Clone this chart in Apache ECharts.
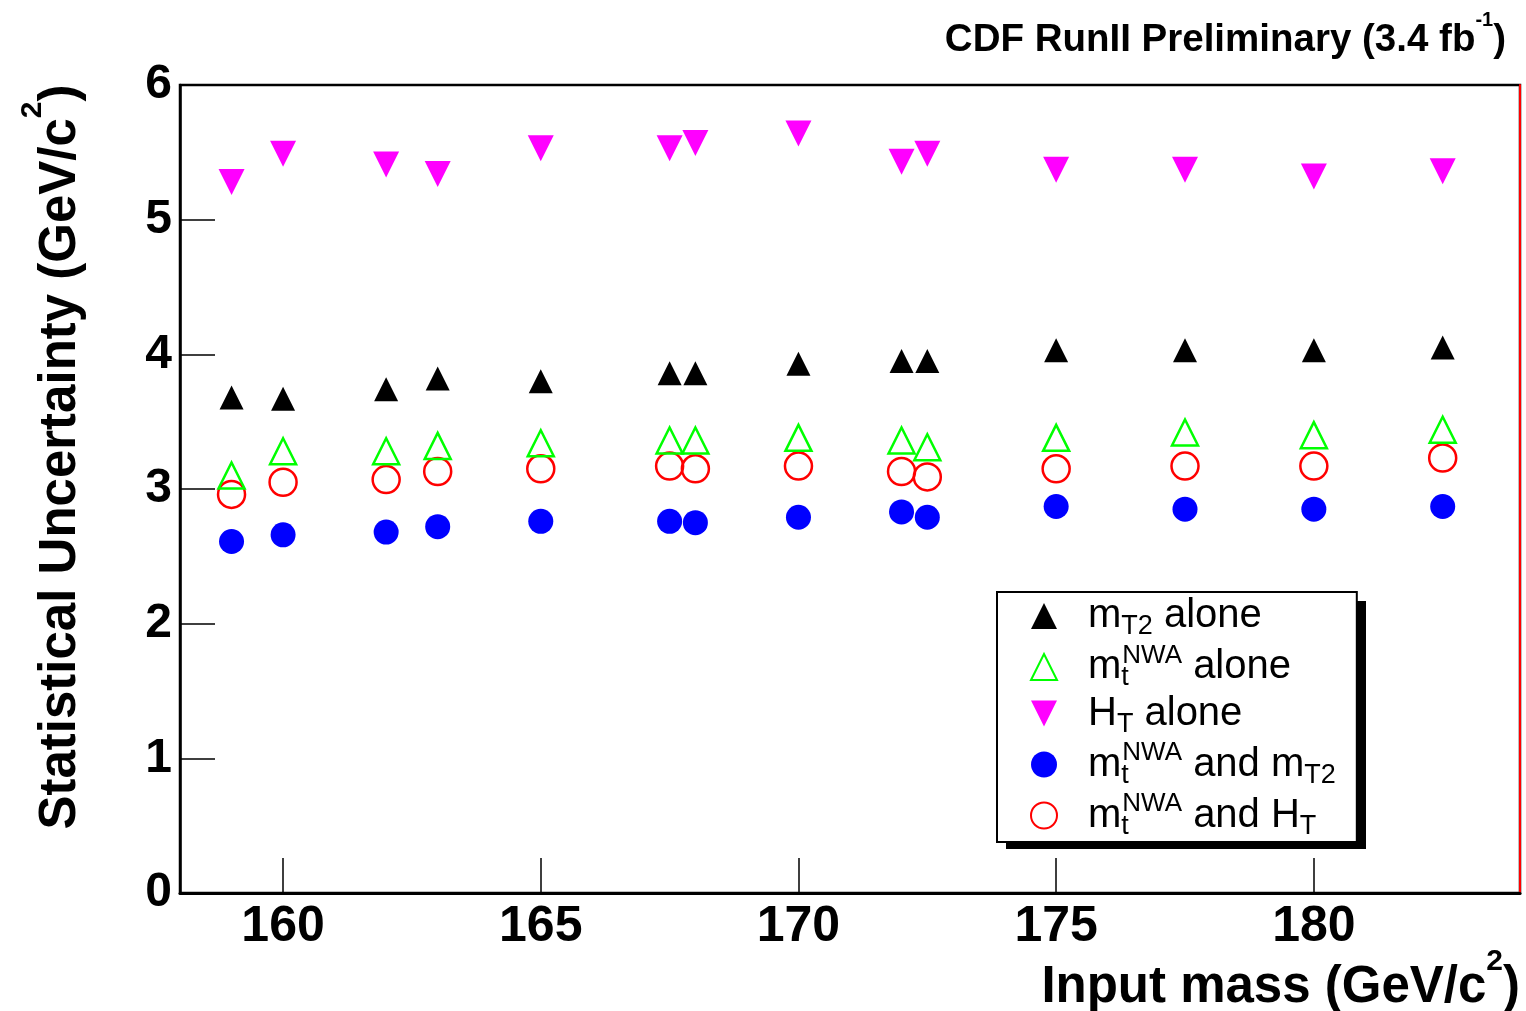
<!DOCTYPE html>
<html>
<head>
<meta charset="utf-8">
<script src="https://cdn.jsdelivr.net/npm/echarts@6/dist/echarts.min.js"></script>
<style>
html,body{margin:0;padding:0;background:#fff;}
#chart{width:1526px;height:1011px;}
</style>
</head>
<body>
<div id="chart"></div>
<script>
// ---- data ----
var masses = [159, 160, 162, 163, 165, 167.5, 168, 170, 172, 172.5, 175, 177.5, 180, 182.5];
var mT2Alone = [3.68, 3.67, 3.74, 3.82, 3.80, 3.86, 3.86, 3.93, 3.95, 3.95, 4.03, 4.03, 4.03, 4.05];
var mtNWAAlone = [3.10, 3.28, 3.28, 3.32, 3.34, 3.36, 3.36, 3.38, 3.36, 3.31, 3.38, 3.42, 3.40, 3.44];
var HTAlone = [5.28, 5.49, 5.41, 5.34, 5.53, 5.53, 5.57, 5.64, 5.43, 5.49, 5.37, 5.37, 5.32, 5.36];
var mtNWAandmT2 = [2.61, 2.66, 2.68, 2.72, 2.76, 2.76, 2.75, 2.79, 2.83, 2.79, 2.87, 2.85, 2.85, 2.87];
var mtNWAandHT = [2.96, 3.05, 3.07, 3.13, 3.15, 3.17, 3.15, 3.17, 3.13, 3.09, 3.15, 3.17, 3.17, 3.23];
var xTicks = [160, 165, 170, 175, 180];
var yTicks = [0, 1, 2, 3, 4, 5, 6];

function pairs(xs, ys) { return xs.map(function (x, i) { return [x, ys[i]]; }); }

var FONT = 'Liberation Sans';
var legendRich = {
  m: { fontFamily: FONT, fontSize: 40, lineHeight: 49, color: '#000', verticalAlign: 'middle' },
  sub: { fontFamily: FONT, fontSize: 27, lineHeight: 20, color: '#000', verticalAlign: 'bottom' },
  subz: { fontFamily: FONT, fontSize: 27, lineHeight: 20, color: '#000', verticalAlign: 'bottom', width: 1 },
  sup: { fontFamily: FONT, fontSize: 26, lineHeight: 22, color: '#000', verticalAlign: 'top' }
};
var legendText = {
  'mT2 alone': '{m|m}{sub|T2}{m| alone}',
  'mtNWA alone': '{m|m}{subz|t}{sup|NWA}{m| alone}',
  'HT alone': '{m|H}{sub|T}{m| alone}',
  'mtNWA and mT2': '{m|m}{subz|t}{sup|NWA}{m| and m}{sub|T2}',
  'mtNWA and HT': '{m|m}{subz|t}{sup|NWA}{m| and H}{sub|T}'
};

var chart = echarts.init(document.getElementById('chart'), null, { renderer: 'canvas' });
var option = {
  animation: false,
  backgroundColor: '#fff',
  grid: { left: 180, right: 6, top: 85, bottom: 118, show: true, borderColor: '#000', borderWidth: 2.5, backgroundColor: 'transparent' },
  xAxis: {
    type: 'value', min: 158, max: 184,
    axisLine: { show: true, lineStyle: { color: '#000', width: 3 } },
    axisTick: { show: true, inside: true, length: 35, customValues: xTicks, lineStyle: { color: '#000', width: 1.5 } },
    axisLabel: { customValues: xTicks, fontFamily: FONT, fontWeight: 'bold', fontSize: 50, color: '#000', margin: 9 },
    splitLine: { show: false }
  },
  yAxis: [{
    type: 'value', min: 0, max: 6, interval: 1,
    axisLine: { show: true, lineStyle: { color: '#000', width: 2.5 } },
    axisTick: { show: true, inside: true, length: 35, lineStyle: { color: '#000', width: 1.5 } },
    axisLabel: { fontFamily: FONT, fontWeight: 'bold', fontSize: 48, color: '#000', margin: 8,
      formatter: function (v) { return yTicks.indexOf(v) >= 0 ? String(v) : ''; } },
    splitLine: { show: false }
  }, {
    type: 'value', min: 0, max: 6, position: 'right',
    axisLine: { show: true, lineStyle: { color: '#ff0000', width: 2 } },
    axisTick: { show: false }, axisLabel: { show: false }, splitLine: { show: false }
  }],
  legend: {
    orient: 'vertical', left: 997, top: 592, z: 6,
    padding: [4, 21, 2, 33], itemGap: 2, itemWidth: 26, itemHeight: 26,
    backgroundColor: '#fff', borderColor: '#000', borderWidth: 2,
    textStyle: { padding: [0, 0, 0, 26], rich: legendRich },
    formatter: function (name) { return legendText[name]; },
    data: ['mT2 alone', 'mtNWA alone', 'HT alone', 'mtNWA and mT2', 'mtNWA and HT']
  },
  series: [
    { name: 'mT2 alone', type: 'scatter', symbol: 'triangle', symbolSize: 24, z: 3,
      itemStyle: { color: '#000', opacity: 1 }, data: pairs(masses, mT2Alone) },
    { name: 'mtNWA and HT', type: 'scatter', symbol: 'circle', symbolSize: 27, z: 3,
      itemStyle: { color: 'rgba(255,255,255,0)', borderColor: '#ff0000', borderWidth: 2.5, opacity: 1 }, data: pairs(masses, mtNWAandHT) },
    { name: 'mtNWA alone', type: 'scatter', symbol: 'triangle', symbolSize: 26, z: 4,
      itemStyle: { color: 'rgba(255,255,255,0)', borderColor: '#00ff00', borderWidth: 2.5, opacity: 1 }, data: pairs(masses, mtNWAAlone) },
    { name: 'HT alone', type: 'scatter', symbol: 'path://M0,0 L10,0 L5,10 Z', symbolSize: 26, z: 3,
      itemStyle: { color: '#ff00ff', opacity: 1 }, data: pairs(masses, HTAlone) },
    { name: 'mtNWA and mT2', type: 'scatter', symbol: 'circle', symbolSize: 25, z: 3,
      itemStyle: { color: '#0000ff', opacity: 1 }, data: pairs(masses, mtNWAandmT2) }
  ],
  graphic: [
    // drop shadow of the legend box
    { type: 'rect', z: 5, shape: { x: 1006, y: 601, width: 360, height: 248 }, style: { fill: '#000' } },
    { type: 'text', right: 20, top: 10, z: 10,
      style: { text: '{b|CDF RunII Preliminary (3.4 fb}{s|-1}{b|)}', align: 'right',
        rich: {
          b: { fontFamily: FONT, fontWeight: 'bold', fontSize: 38.5, lineHeight: 50, fill: '#000', verticalAlign: 'bottom' },
          s: { fontFamily: FONT, fontWeight: 'bold', fontSize: 20, lineHeight: 24, fill: '#000', verticalAlign: 'top' }
        } } },
    { type: 'text', x: 52, y: 457, rotation: Math.PI / 2, z: 10,
      style: { text: '{b|Statistical Uncertainty (GeV/c}{s|2}{b|)}', align: 'center', verticalAlign: 'middle',
        rich: {
          b: { fontFamily: FONT, fontWeight: 'bold', fontSize: 51, lineHeight: 68, fill: '#000', verticalAlign: 'bottom' },
          s: { fontFamily: FONT, fontWeight: 'bold', fontSize: 30, lineHeight: 30, fill: '#000', verticalAlign: 'top' }
        } } },
    { type: 'text', x: 1520, y: 980, z: 10,
      style: { text: '{b|Input mass (GeV/c}{s|2}{b|)}', align: 'right', verticalAlign: 'middle',
        rich: {
          b: { fontFamily: FONT, fontWeight: 'bold', fontSize: 51, lineHeight: 66, fill: '#000', verticalAlign: 'bottom' },
          s: { fontFamily: FONT, fontWeight: 'bold', fontSize: 30, lineHeight: 30, fill: '#000', verticalAlign: 'top' }
        } } }
  ]
};
chart.setOption(option);
</script>
</body>
</html>
